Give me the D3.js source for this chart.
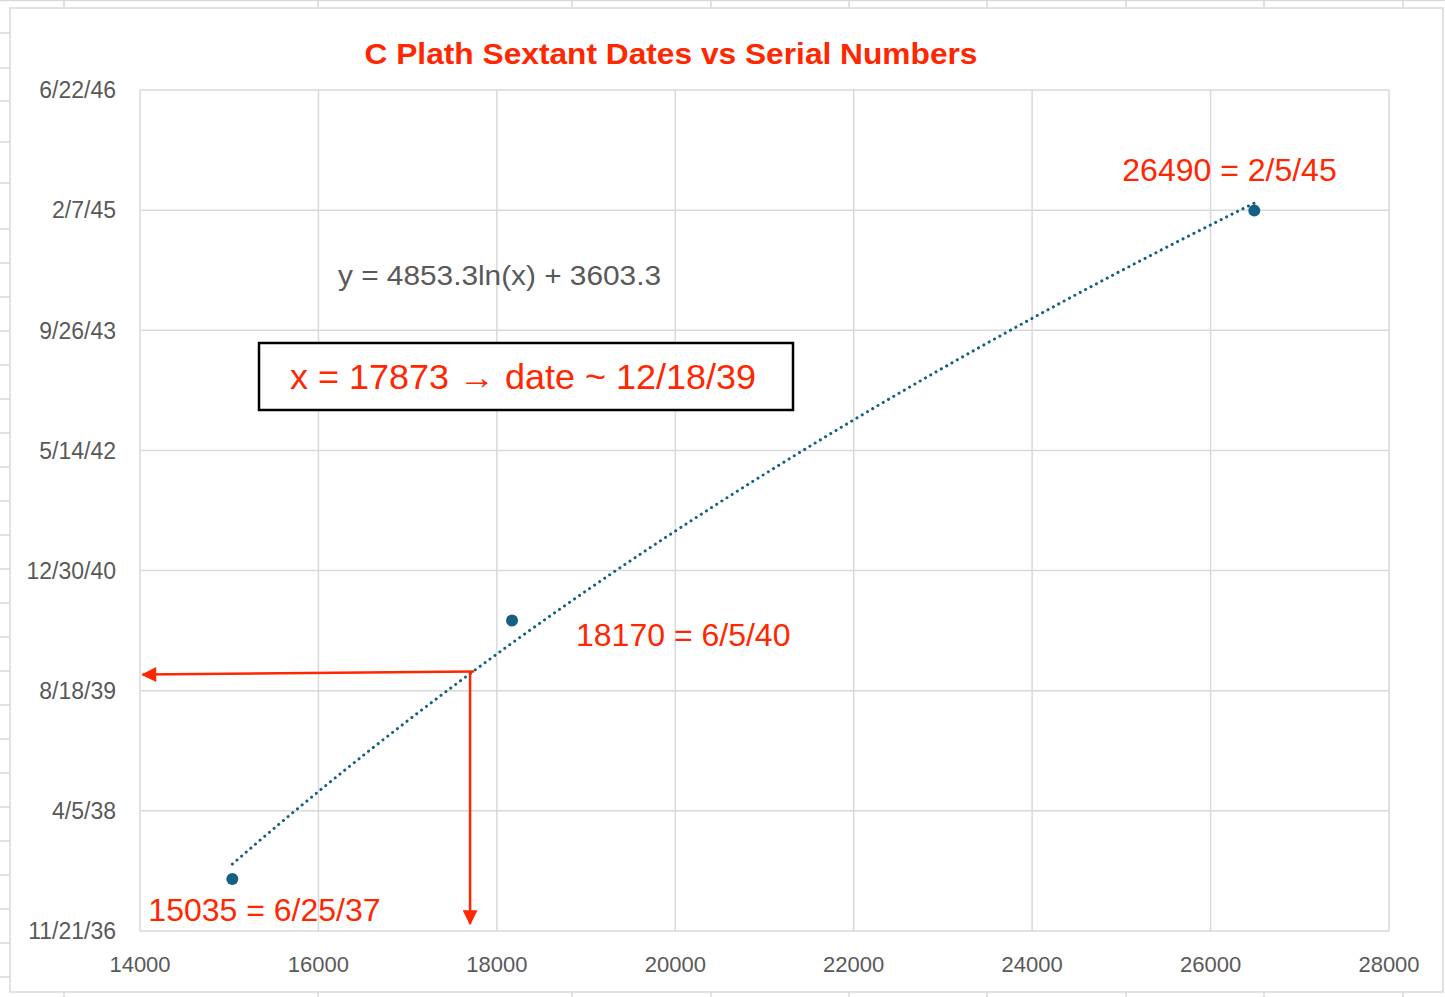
<!DOCTYPE html>
<html>
<head>
<meta charset="utf-8">
<script src="https://cdn.jsdelivr.net/npm/d3@7"></script>
<style>
  body { margin: 0; background: #fff; }
  svg { display: block; font-family: "Liberation Sans", Arial, Helvetica, sans-serif; }
</style>
</head>
<body>
<svg id="chart" width="1445" height="997"></svg>
<script>
// data
const serials = [15035, 18170, 26490];
const dates = ['1937-06-25', '1940-06-05', '1945-02-05'];
const xTicks = [14000, 16000, 18000, 20000, 22000, 24000, 26000, 28000];
const yTickStart = 13475;  // 11/21/36 as a spreadsheet serial
const yTickStep = 500;
const yTickCount = 8;
const title = 'C Plath Sextant Dates vs Serial Numbers';
const equationText = 'y = 4853.3ln(x) + 3603.3';
const noteText = 'x = 17873 \u2192 date ~ 12/18/39';
// where the hand drawn arrows meet / end (data units)
const arrowCorner = { x: 17700, y: 14555 };
const arrowLeftEnd = { x: 14030, y: 14542 };
const arrowBottomEnd = { x: 17700, y: 13505 };

const red = '#ff2600';
const blue = '#156082';
const grey = '#595959';
const gridColor = '#d9d9d9';

const svg = d3.select('#chart');

// spreadsheet behind the chart object
const colLines = [64, 318, 572, 711, 849, 987, 1126, 1264, 1403];
const rowLines = [33, 68, 101, 142, 183].concat(d3.range(229, 990, 34));
svg.append('line').attr('x1', 0).attr('x2', 1445).attr('y1', 0.5).attr('y2', 0.5)
    .attr('stroke', gridColor).attr('stroke-width', 1.5);
colLines.forEach(c => {
    svg.append('line').attr('x1', c).attr('x2', c).attr('y1', 0).attr('y2', 997)
        .attr('stroke', gridColor).attr('stroke-width', 1.5);
});
rowLines.forEach(r => {
    svg.append('line').attr('x1', 0).attr('x2', 10).attr('y1', r).attr('y2', r)
        .attr('stroke', gridColor).attr('stroke-width', 1.5);
});

// chart frame
svg.append('rect')
    .attr('x', 10).attr('y', 8).attr('width', 1433).attr('height', 984)
    .attr('fill', '#fff').attr('stroke', gridColor).attr('stroke-width', 1.5);

const serialToDate = s => new Date(Date.UTC(1899, 11, 30) + s * 864e5);
const dateToSerial = d => Math.round((d - Date.UTC(1899, 11, 30)) / 864e5);
const fmt = d3.utcFormat('%-m/%-d/%y');

const yTicks = d3.range(yTickCount).map(i => yTickStart + i * yTickStep);

const x = d3.scaleLinear().domain([14000, 28000]).range([140, 1389]);
const y = d3.scaleLinear().domain([yTicks[0], yTicks[yTicks.length - 1]]).range([931, 90]);

const points = serials.map((s, i) => {
    const d = d3.utcParse('%Y-%m-%d')(dates[i]);
    return { x: s, date: d, y: dateToSerial(d) };
});

// grid
svg.append('g').selectAll('line').data(xTicks).enter().append('line')
    .attr('x1', d => x(d)).attr('x2', d => x(d))
    .attr('y1', y.range()[0]).attr('y2', y.range()[1])
    .attr('stroke', gridColor).attr('stroke-width', 1.5);
svg.append('g').selectAll('line').data(yTicks).enter().append('line')
    .attr('x1', x.range()[0]).attr('x2', x.range()[1])
    .attr('y1', d => y(d)).attr('y2', d => y(d))
    .attr('stroke', gridColor).attr('stroke-width', 1.5);

// tick labels
svg.append('g').selectAll('text').data(xTicks).enter().append('text')
    .attr('x', d => x(d)).attr('y', 972)
    .attr('text-anchor', 'middle')
    .attr('font-size', 22).attr('fill', grey)
    .text(d => d);
svg.append('g').selectAll('text').data(yTicks).enter().append('text')
    .attr('x', 116).attr('y', d => y(d))
    .attr('dy', '0.36em')
    .attr('text-anchor', 'end')
    .attr('font-size', 23).attr('fill', grey)
    .text(d => fmt(serialToDate(d)));

// title
svg.append('text')
    .attr('x', 671).attr('y', 64)
    .attr('text-anchor', 'middle')
    .attr('font-size', 29).attr('font-weight', 'bold').attr('fill', red)
    .attr('textLength', 613).attr('lengthAdjust', 'spacingAndGlyphs')
    .text(title);

// logarithmic trendline, least squares on the points
const lx = points.map(p => Math.log(p.x));
const mx = d3.mean(lx), my = d3.mean(points, p => p.y);
const a = d3.sum(points, (p, i) => (lx[i] - mx) * (p.y - my)) / d3.sum(lx, v => (v - mx) * (v - mx));
const b = my - a * mx;
const xMin = d3.min(serials), xMax = d3.max(serials);
const trend = d3.range(0, 101).map(i => {
    const xv = xMin + (xMax - xMin) * i / 100;
    return { x: xv, y: a * Math.log(xv) + b };
});
const line = d3.line()
    .x(d => x(d.x))
    .y(d => y(d.y));
svg.append('path')
    .attr('d', line(trend))
    .attr('fill', 'none')
    .attr('stroke', blue)
    .attr('stroke-width', 3)
    .attr('stroke-linecap', 'round')
    .attr('stroke-dasharray', '0.1 6');

// points
svg.append('g').selectAll('circle').data(points).enter().append('circle')
    .attr('cx', d => x(d.x)).attr('cy', d => y(d.y))
    .attr('r', 6).attr('fill', blue);

// point labels
const labelPos = [
    { dx: -84, dy: 42 },
    { dx: 64, dy: 25 },
    { dx: -132, dy: -30 }
];
svg.append('g').selectAll('text').data(points).enter().append('text')
    .attr('x', (d, i) => x(d.x) + labelPos[i].dx)
    .attr('y', (d, i) => y(d.y) + labelPos[i].dy)
    .attr('font-size', 32).attr('fill', red)
    .text(d => d.x + ' = ' + fmt(d.date));

// equation
svg.append('text')
    .attr('x', 338).attr('y', 285)
    .attr('font-size', 28).attr('fill', grey)
    .attr('textLength', 323).attr('lengthAdjust', 'spacingAndGlyphs')
    .text(equationText);

// note box
svg.append('rect')
    .attr('x', 259).attr('y', 343).attr('width', 534).attr('height', 67)
    .attr('fill', '#fff').attr('stroke', '#000').attr('stroke-width', 2.5);
svg.append('text')
    .attr('x', 523).attr('y', 389)
    .attr('text-anchor', 'middle')
    .attr('font-size', 35).attr('fill', red)
    .attr('textLength', 466).attr('lengthAdjust', 'spacingAndGlyphs')
    .text(noteText);

// arrows
const defs = svg.append('defs');
defs.append('marker')
    .attr('id', 'head')
    .attr('viewBox', '0 0 10 10')
    .attr('refX', 9).attr('refY', 5)
    .attr('markerUnits', 'userSpaceOnUse')
    .attr('markerWidth', 16).attr('markerHeight', 15)
    .attr('orient', 'auto')
    .append('path')
    .attr('d', 'M0,0 L10,5 L0,10 Z')
    .attr('fill', red);

svg.append('line')
    .attr('x1', x(arrowCorner.x) + 4).attr('y1', y(arrowCorner.y))
    .attr('x2', x(arrowLeftEnd.x)).attr('y2', y(arrowLeftEnd.y))
    .attr('stroke', red).attr('stroke-width', 2.5)
    .attr('marker-end', 'url(#head)');
svg.append('line')
    .attr('x1', x(arrowCorner.x)).attr('y1', y(arrowCorner.y))
    .attr('x2', x(arrowBottomEnd.x)).attr('y2', y(arrowBottomEnd.y))
    .attr('stroke', red).attr('stroke-width', 2.5)
    .attr('marker-end', 'url(#head)');
</script>
</body>
</html>
